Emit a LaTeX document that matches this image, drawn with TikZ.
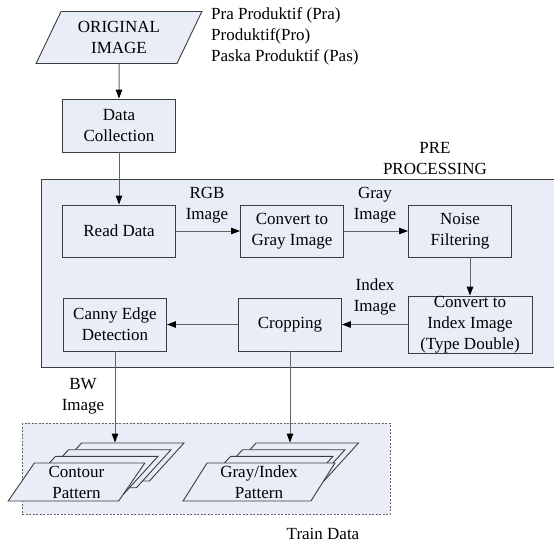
\documentclass[tikz,border=0pt]{standalone}
\usepackage{fontspec}
\setmainfont{Liberation Serif}
\usepackage{tikz}
\usetikzlibrary{shapes.geometric,arrows.meta}

\definecolor{boxfill}{RGB}{232,237,247}
\definecolor{edgegray}{RGB}{60,60,60}
\definecolor{linegray}{RGB}{100,100,100}

\begin{document}
\begin{tikzpicture}[x=1pt,y=1pt]
            \tikzstyle{every node}+=[inner sep=0pt, font=\fontsize{17}{21}\selectfont]
            \tikzstyle{proc}=[draw=edgegray, fill=boxfill, line width=0.9pt, align=center]
            \tikzstyle{datashape}=[draw=edgegray, fill=boxfill, line width=0.9pt, align=center, inner sep=2pt,
                trapezium, trapezium left angle=63, trapezium right angle=117, trapezium stretches=true]
            \tikzstyle{flow}=[draw=linegray, line width=1pt, -{Triangle[length=9pt,width=6.5pt,color=black]}]
            \tikzstyle{lbl}=[align=center]
            \useasboundingbox (0,0) rectangle (554,-542);
            % outer regions
            \draw [draw=edgegray, fill=boxfill, line width=0.9pt] (41,-179) rectangle (580,-367);
            \draw [draw=linegray, fill=boxfill, line width=0.8pt, dash pattern=on 2pt off 1.5pt] (22,-423) rectangle (390,-514);
            \node [lbl] (prelbl) at (435,-158.5) {PRE\\PROCESSING};
            \node [lbl] (trainlbl) at (323,-534) {Train Data};
            % input
            \node [datashape, minimum width=166, minimum height=52] (orig) at (119,-37.5) {ORIGINAL\\IMAGE};
            \node [lbl, align=left, anchor=west] (cat) at (211,-36) {Pra Produktif (Pra)\\Produktif(Pro)\\Paska Produktif (Pas)};
            \node [proc, minimum width=113, minimum height=53] (datacoll) at (119,-125.5) {Data\\Collection};
            % pre processing steps
            \node [proc, minimum width=113, minimum height=52] (readdata) at (119,-231) {Read Data};
            \node [proc, minimum width=103, minimum height=52] (graycv) at (292,-231) {Convert to\\Gray Image};
            \node [proc, minimum width=103, minimum height=52] (noise) at (460,-231) {Noise\\Filtering};
            \node [proc, minimum width=124, minimum height=57] (indexcv) at (470,-324.5) {Convert to\\Index Image\\(Type Double)};
            \node [proc, minimum width=103, minimum height=53] (crop) at (290,-324.5) {Cropping};
            \node [proc, minimum width=103, minimum height=53] (canny) at (115,-324.5) {Canny Edge\\Detection};
            \node [lbl] (rgblbl) at (207,-205.5) {RGB\\Image};
            \node [lbl] (graylbl) at (375,-205.5) {Gray\\Image};
            \node [lbl] (indexlbl) at (375,-296.5) {Index\\Image};
            \node [lbl] (bwlbl) at (83,-396.5) {BW\\Image};
            % train data stacks
            \node [datashape, minimum width=137, minimum height=38] (cont4) at (115.5,-462) {};
            \node [datashape, minimum width=137, minimum height=38] (cont3) at (102.5,-468.7) {};
            \node [datashape, minimum width=137, minimum height=38] (cont2) at (89.5,-475.3) {};
            \node [datashape, minimum width=137, minimum height=38] (cont1) at (76.5,-482) {Contour\\Pattern};
            \node [datashape, minimum width=137, minimum height=38] (gind4) at (290,-462) {};
            \node [datashape, minimum width=137, minimum height=38] (gind3) at (276.5,-468.7) {};
            \node [datashape, minimum width=137, minimum height=38] (gind2) at (264.5,-475.3) {};
            \node [datashape, minimum width=152, minimum height=38] (gind1) at (259,-482) {Gray/Index\\Pattern};
            % connectors
            \draw [flow] (orig.south) -- (datacoll.north);
            \draw [flow] (datacoll.south) -- (readdata.north);
            \draw [flow] (readdata.east) -- (graycv.west);
            \draw [flow] (graycv.east) -- (noise.west);
            \draw [flow] (noise.south -| indexcv.north) -- (indexcv.north);
            \draw [flow] (indexcv.west) -- (crop.east);
            \draw [flow] (crop.west) -- (canny.east);
            \draw [flow] (canny.south) -- (canny.south |- cont4.north);
            \draw [flow] (crop.south) -- (crop.south |- gind4.north);
            \end{tikzpicture}
\end{document}
